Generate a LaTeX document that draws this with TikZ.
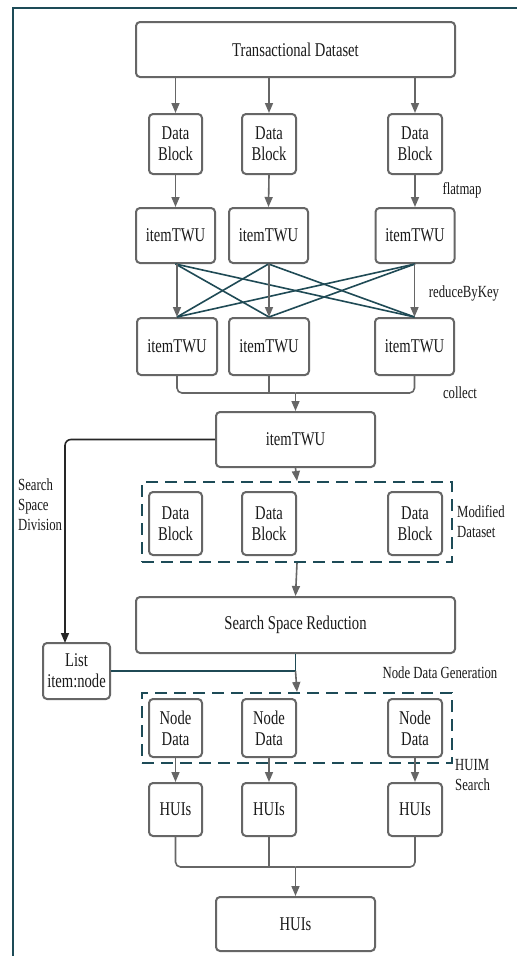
\documentclass[tikz,border=0pt]{standalone}
\usepackage{fontspec}
\setmainfont{Liberation Serif}[FakeStretch=0.75]
\usetikzlibrary{arrows.meta}
\definecolor{boxgray}{HTML}{666666}
\definecolor{frameteal}{HTML}{1D4B57}
\definecolor{crossteal}{HTML}{1F4A55}
\definecolor{txt}{HTML}{1A1A1A}
\tikzset{
  box/.style={draw=boxgray, line width=2pt, rounded corners=4pt, fill=white,
    inner sep=0pt, align=center, text=txt, font=\fontsize{19.5}{21}\selectfont},
  lbl/.style={inner sep=0pt, text=txt, font=\fontsize{17}{20}\selectfont},
  dashbox/.style={draw=frameteal, line width=2pt, dash pattern=on 12pt off 7pt, inner sep=0pt},
  conn/.style={draw=boxgray, line width=1.6pt},
  arr/.style={conn, -{Triangle[length=10pt,width=8pt]}},
  cross/.style={draw=crossteal, line width=1.6pt},
}
\begin{document}
\begin{tikzpicture}[x=1pt,y=-1pt]
\useasboundingbox (0,0) rectangle (517,956);
\fill[white] (0,0) rectangle (517,956);
\draw[frameteal, line width=2pt] (13,956) -- (13,8) -- (517,8);

% dashed group boxes
\node[dashbox, minimum width=310pt, minimum height=80pt] (mdbox) at (297,522) {};
\node[dashbox, minimum width=310pt, minimum height=70pt] (ndbox) at (297,728) {};

% nodes
\node[box, minimum width=319pt, minimum height=55pt] (td) at (295.5,49.5) {Transactional Dataset};
\node[box, minimum width=53pt, minimum height=60pt] (db1) at (175.5,144) {Data\\Block};
\node[box, minimum width=54pt, minimum height=60pt] (db2) at (269,144) {Data\\Block};
\node[box, minimum width=54pt, minimum height=60pt] (db3) at (415,144) {Data\\Block};

\node[box, minimum width=79pt, minimum height=55pt] (tw1) at (175.5,235.5) {itemTWU};
\node[box, minimum width=79pt, minimum height=55pt] (tw2) at (268.5,235.5) {itemTWU};
\node[box, minimum width=79pt, minimum height=55pt] (tw3) at (415,235.5) {itemTWU};

\node[box, minimum width=80pt, minimum height=57pt] (tr1) at (177,346.5) {itemTWU};
\node[box, minimum width=80pt, minimum height=57pt] (tr2) at (269,346.5) {itemTWU};
\node[box, minimum width=79pt, minimum height=57pt] (tr3) at (414.5,346.5) {itemTWU};

\node[box, minimum width=159pt, minimum height=55pt] (tw) at (295.5,439.5) {itemTWU};

\node[box, minimum width=53pt, minimum height=63pt] (md1) at (175.5,523.5) {Data\\Block};
\node[box, minimum width=54pt, minimum height=63pt] (md2) at (269,523.5) {Data\\Block};
\node[box, minimum width=54pt, minimum height=63pt] (md3) at (415,523.5) {Data\\Block};

\node[box, minimum width=319pt, minimum height=56pt] (ssr) at (295.5,625) {Search Space Reduction};
\node[box, minimum width=67pt, minimum height=56pt] (list) at (76.5,671) {List\\item:node};

\node[box, minimum width=53pt, minimum height=58pt] (nd1) at (175.5,728) {Node\\Data};
\node[box, minimum width=54pt, minimum height=58pt] (nd2) at (269,728) {Node\\Data};
\node[box, minimum width=54pt, minimum height=58pt] (nd3) at (415,728) {Node\\Data};

\node[box, minimum width=53pt, minimum height=53pt] (hu1) at (175.5,809.5) {HUIs};
\node[box, minimum width=54pt, minimum height=53pt] (hu2) at (269,809.5) {HUIs};
\node[box, minimum width=54pt, minimum height=53pt] (hu3) at (415,809.5) {HUIs};

\node[box, minimum width=159pt, minimum height=54pt] (hf) at (295.5,924) {HUIs};

% labels
\node[lbl] (lflat) at (462,190) {flatmap};
\node[lbl] (lred) at (464,293) {reduceByKey};
\node[lbl] (lcol) at (460,393) {collect};
\node[lbl, anchor=west, align=left] (lssd) at (18,505) {Search\\Space\\Division};
\node[lbl, anchor=west, align=left] (lmod) at (457,522) {Modified\\Dataset};
\node[lbl] (lndg) at (440,673) {Node Data Generation};
\node[lbl, anchor=west, align=left] (lhuim) at (455,775) {HUIM\\Search};

% top arrows
\draw[arr] (td.south -| db1) -- (db1.north);
\draw[arr] (td.south -| db2) -- (db2.north);
\draw[arr] (td.south -| db3) -- (db3.north);
\draw[arr] (db1.south) -- (tw1.north);
\draw[arr] (db2.south) -- (tw2.north);
\draw[arr] (db3.south) -- (tw3.north);

% cross shuffle
\draw[cross] (tw1.south) -- (tr2.north);
\draw[cross] (tw1.south) -- (tr3.north);
\draw[cross] (tw2.south) -- (tr1.north);
\draw[cross] (tw2.south) -- (tr3.north);
\draw[cross] (tw3.south) -- (tr1.north);
\draw[cross] (tw3.south) -- (tr2.north);
\draw[arr] (tw1.south -| tr1) -- (tr1.north);
\draw[arr] (tw2.south -| tr2) -- (tr2.north);
\draw[arr] (tw3.south -| tr3) -- (tr3.north);

% collect
\coordinate (c1) at (295.5,393);
\draw[conn, rounded corners=5pt] (tr1.south) |- (c1);
\draw[conn, rounded corners=5pt] (tr3.south) |- (c1);
\draw[conn] (tr2.south) -- (tr2.south |- c1);
\draw[arr] (c1) -- (tw.north);

% search space division
\coordinate (lsn) at (65,643);
\draw[draw=black!85, line width=1.6pt, rounded corners=6pt, -{Triangle[length=10pt,width=8pt]}] (tw.west) -| (lsn);

\draw[arr] (tw.south) -- (mdbox.north);
\draw[arr] (mdbox.south) -- (ssr.north);

% node data generation
\coordinate (j) at (295.5,671);
\draw[cross] (list.east) -- (j);
\draw[cross] (ssr.south) -- (j);
\draw[arr] (j) -- (ndbox.north);

% huim search
\draw[arr] (nd1.south) -- (hu1.north);
\draw[arr] (nd2.south) -- (hu2.north);
\draw[arr] (nd3.south) -- (hu3.north);

\coordinate (c2) at (295.5,867);
\draw[conn, rounded corners=5pt] (hu1.south) |- (c2);
\draw[conn, rounded corners=5pt] (hu3.south) |- (c2);
\draw[conn] (hu2.south) -- (hu2.south |- c2);
\draw[arr] (c2) -- (hf.north);
\end{tikzpicture}
\end{document}
